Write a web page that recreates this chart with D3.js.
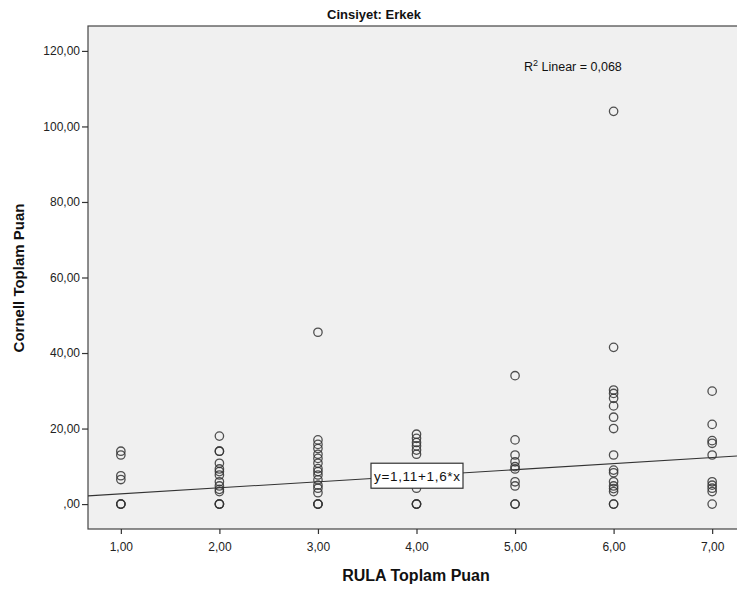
<!DOCTYPE html>
<html><head><meta charset="utf-8">
<script src="https://cdn.jsdelivr.net/npm/d3@7"></script>
<style>body{margin:0;background:#fff}svg{display:block}text{font-family:"Liberation Sans",Arial,sans-serif}</style>
</head><body><svg id="c" width="737" height="590"></svg>
<script>
const title = "Cinsiyet: Erkek";
const xTitle = "RULA Toplam Puan";
const yTitle = "Cornell Toplam Puan";
const xTicks = [1,2,3,4,5,6,7];
const yTicks = [0,20,40,60,80,100,120];
const xCategories = [1,2,3,4,5,6,7];
const yValues = [
  [14,13,7.5,6.5,0,0,0],
  [18,14,14,10.8,9.3,8.6,7.7,5.9,4.8,3.9,3.3,0,0,0],
  [45.5,17,15.8,14.7,13.2,12.1,10.8,9.4,8.6,7.7,6.4,5,4.2,3,0,0,0],
  [18.5,17.4,16.3,15.4,14.3,13.2,4.2,0,0,0],
  [34,17,13,11.2,9.9,9.3,5.9,4.8,0,0],
  [104,41.5,30.2,29.3,28,26,23,20,13,9,8.3,5.9,4.8,4.1,3.3,0,0],
  [29.9,21.1,16.8,16.1,13,5.9,5,4.2,3.3,0]
];
const intercept = 1.11, slope = 1.6;
const eqLabel = "y=1,11+1,6*x";

const fmt = v => (v===0 ? ",00" : v.toFixed(2).replace(".", ","));
const points = [];
xCategories.forEach((x,i)=> yValues[i].forEach(y=>points.push({x,y})));

const svg = d3.select("#c");
const L=88, T=26, R=745, B=529;
const x = d3.scaleLinear().domain([2/3, 7+1/3]).range([L,R]);
const y = d3.scaleLinear().domain([-6.6,126.6]).range([B,T]);

svg.append("defs").append("clipPath").attr("id","clip")
  .append("rect").attr("x",L).attr("y",T).attr("width",R-L).attr("height",B-T);

svg.append("rect").attr("x",L).attr("y",T).attr("width",R-L).attr("height",B-T)
  .attr("fill","#f0f0f0").attr("stroke","#444").attr("stroke-width",1.2);

const gx = svg.append("g").attr("transform",`translate(0,${B})`)
  .call(d3.axisBottom(x).tickValues(xTicks).tickFormat(fmt).tickSize(5).tickSizeOuter(0));
const gy = svg.append("g").attr("transform",`translate(${L},0)`)
  .call(d3.axisLeft(y).tickValues(yTicks).tickFormat(fmt).tickSize(6).tickSizeOuter(0));
[gx,gy].forEach(g=>{
  g.select(".domain").remove();
  g.selectAll(".tick line").attr("stroke","#333").attr("stroke-width",1.2);
  g.selectAll(".tick text").attr("fill","#222").attr("font-size",12);
});
gx.selectAll(".tick text").attr("dy","1.2em");
gy.selectAll(".tick text").attr("x",-8);

const plot = svg.append("g").attr("clip-path","url(#clip)");
const x0=2/3, x1=7+1/3;
plot.append("line").attr("x1",x(x0)).attr("y1",y(intercept+slope*x0))
  .attr("x2",x(x1)).attr("y2",y(intercept+slope*x1))
  .attr("stroke","#333").attr("stroke-width",1.1);

plot.selectAll("circle").data(points).enter().append("circle")
  .attr("cx",d=>x(d.x)).attr("cy",d=>y(d.y)).attr("r",4.2)
  .attr("fill","none").attr("stroke","#333").attr("stroke-width",1.3).attr("stroke-opacity",0.85);

const ex=4, ey=y(intercept+slope*ex);
const eg = svg.append("g");
eg.append("rect").attr("x",x(ex)-45.5).attr("y",ey-12.5).attr("width",92).attr("height",25)
  .attr("fill","#fff").attr("stroke","#333").attr("stroke-width",1.2);
eg.append("text").attr("x",x(ex)+0.5).attr("y",ey+5).attr("text-anchor","middle")
  .attr("font-size",13.5).attr("fill","#111").attr("textLength",86).text(eqLabel);

const rt = svg.append("text").attr("x",524).attr("y",71).attr("font-size",12.5).attr("fill","#111");
rt.append("tspan").text("R");
rt.append("tspan").attr("font-size",9).attr("dy",-5).text("2");
rt.append("tspan").attr("dy",5).text(" Linear = 0,068");

svg.append("text").attr("x",374).attr("y",19).attr("text-anchor","middle")
  .attr("font-size",13).attr("font-weight","bold").attr("fill","#111").text(title);
svg.append("text").attr("x",416).attr("y",581).attr("text-anchor","middle")
  .attr("font-size",16).attr("font-weight","bold").attr("fill","#111").text(xTitle);
svg.append("text").attr("transform","translate(24,278) rotate(-90)").attr("text-anchor","middle")
  .attr("font-size",15).attr("font-weight","bold").attr("fill","#111").text(yTitle);
</script></body></html>
